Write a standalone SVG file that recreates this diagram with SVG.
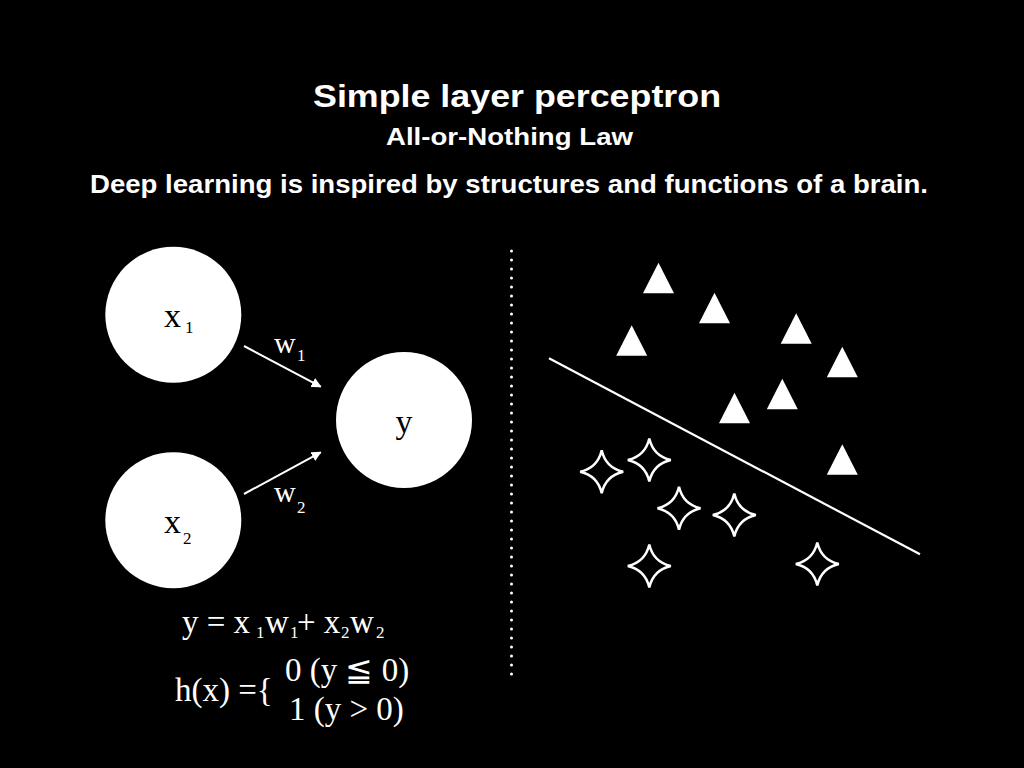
<svg xmlns="http://www.w3.org/2000/svg" width="1024" height="768" viewBox="0 0 1024 768">
<defs>
<style>
.title{font-family:"Liberation Sans",Arial,sans-serif;font-weight:bold;fill:#fff}
.m{font-family:"Liberation Serif","Times New Roman",serif;fill:#fff;font-size:33px}
.w{font-family:"Liberation Serif","Times New Roman",serif;fill:#fff;font-size:30px}
.nt{font-family:"Liberation Serif","Times New Roman",serif;fill:#000;font-size:34px}
.sub{font-size:17px}
.node{fill:#fff}
.tri{fill:#fff}
.star{fill:none;stroke:#fff;stroke-width:2.5;stroke-linejoin:miter}
</style>
<marker id="ah" viewBox="0 0 10 10" refX="9" refY="5" markerWidth="10" markerHeight="10" markerUnits="userSpaceOnUse" orient="auto">
<path d="M0,0 L10,5 L0,10 Z" fill="#fff"/>
</marker>
<path id="st" class="star" d="M0,-21.5 Q4,-4 21.5,0 Q4,4 0,21.5 Q-4,4 -21.5,0 Q-4,-4 0,-21.5 Z"/>
<path id="tr" class="tri" d="M0,0 L15.5,30.5 L-15.5,30.5 Z"/>
</defs>
<rect width="1024" height="768" fill="#000"/>

<g id="titles">
<text class="title" x="313" y="107" font-size="32" textLength="408" lengthAdjust="spacingAndGlyphs">Simple layer perceptron</text>
<text class="title" x="386" y="145" font-size="24" textLength="247" lengthAdjust="spacingAndGlyphs">All-or-Nothing Law</text>
<text class="title" x="90" y="193" font-size="26" textLength="838" lengthAdjust="spacingAndGlyphs">Deep learning is inspired by structures and functions of a brain.</text>
</g>

<g id="connectors">
<line x1="244" y1="346" x2="320.7" y2="386.7" stroke="#fff" stroke-width="2" marker-end="url(#ah)"/>
<line x1="244" y1="494" x2="320.7" y2="452.3" stroke="#fff" stroke-width="2" marker-end="url(#ah)"/>
<text class="w" x="274" y="352.5">w</text>
<text class="w sub" x="297" y="361">1</text>
<text class="w" x="274" y="501.5">w</text>
<text class="w sub" x="297" y="513">2</text>
</g>

<g id="node-x1">
<circle class="node" cx="173.3" cy="314.7" r="68"/>
<text class="nt" x="164" y="327">x<tspan class="sub" x="185" y="333">1</tspan></text>
</g>
<g id="node-x2">
<circle class="node" cx="173.3" cy="520.3" r="68"/>
<text class="nt" x="164" y="533">x<tspan class="sub" x="183" y="544">2</tspan></text>
</g>
<g id="node-y">
<circle class="node" cx="404" cy="420" r="68"/>
<text class="nt" x="404" y="433" text-anchor="middle">y</text>
</g>

<g id="formulas">
<text class="m" x="182" y="633">y = x<tspan class="sub" x="256" y="638">1</tspan><tspan x="265" y="633">w</tspan><tspan class="sub" x="290" y="638">1</tspan><tspan x="297" y="633">+ x</tspan><tspan class="sub" x="341" y="638">2</tspan><tspan x="350" y="633">w</tspan><tspan class="sub" x="376" y="638">2</tspan></text>
<text class="m" x="175" y="701">h(x) ={</text>
<text class="m" x="285" y="681">0 (y ≦ 0)</text>
<text class="m" x="289" y="720">1 (y &gt; 0)</text>
</g>

<g id="divider">
<line x1="511.5" y1="251" x2="511.5" y2="675" stroke="#fff" stroke-width="3" stroke-linecap="round" stroke-dasharray="0 9"/>
</g>

<g id="boundary">
<line x1="549" y1="358.3" x2="920" y2="554.3" stroke="#fff" stroke-width="2.2"/>
</g>

<g id="triangles">
<use href="#tr" x="658.5" y="262.7"/>
<use href="#tr" x="714.5" y="292.7"/>
<use href="#tr" x="631.7" y="325.3"/>
<use href="#tr" x="796.2" y="313.3"/>
<use href="#tr" x="842.3" y="346.7"/>
<use href="#tr" x="782.3" y="378.7"/>
<use href="#tr" x="734.5" y="392.7"/>
<use href="#tr" x="842.3" y="444.3"/>
</g>

<g id="stars">
<use href="#st" x="601.7" y="471.7"/>
<use href="#st" x="649.3" y="460"/>
<use href="#st" x="679" y="508.3"/>
<use href="#st" x="734.3" y="515"/>
<use href="#st" x="649.3" y="566"/>
<use href="#st" x="817.3" y="564"/>
</g>
</svg>
